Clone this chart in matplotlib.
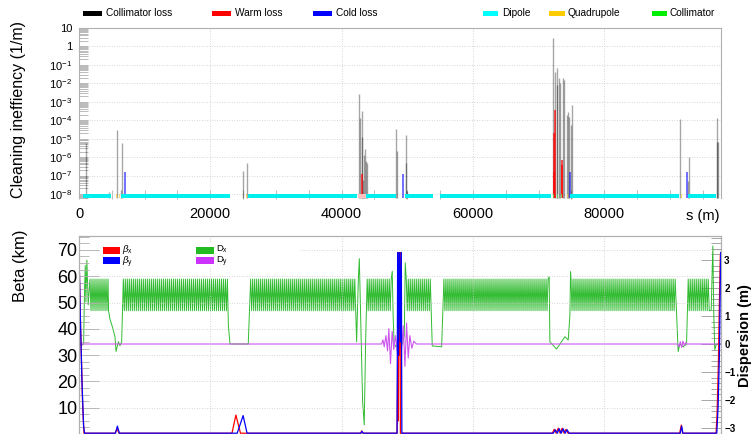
import numpy as np
import matplotlib
matplotlib.use("Agg")
import matplotlib.pyplot as plt
from matplotlib.patches import Rectangle
from matplotlib.ticker import FixedLocator, MultipleLocator, NullFormatter, FixedFormatter, LogLocator

plt.rcParams['font.family'] = ['Liberation Sans', 'DejaVu Sans']
plt.rcParams['mathtext.fontset'] = 'custom'
plt.rcParams['mathtext.rm'] = 'Liberation Sans'
plt.rcParams['mathtext.it'] = 'Liberation Sans:italic'
plt.rcParams['mathtext.bf'] = 'Liberation Sans:bold'

RING = 97750.0

# ---- loss map (s in m, inefficiency in 1/m)
coll_s = [1000, 4600, 5840, 6400, 6600, 25030, 25540,
          42650, 42800, 43050, 43050, 43250, 43400, 43600, 43750, 43900,
          48280, 48480, 49750, 49750, 50000,
          72240, 72500, 72750, 72850, 73100, 73260, 73760, 73910,
          74270, 74420, 74670, 74930, 75030,
          91530, 92780, 92900, 97120, 97220, 97320]
coll_loss = [6e-6, 1.3e-8, 3e-5, 1.7e-8, 5.6e-6, 1.8e-7, 4.7e-7,
             2.5e-3, 1.3e-4, 3e-4, 1.3e-5, 6e-8, 1.3e-6, 2.8e-6, 6e-7, 4.6e-7,
             3.2e-5, 2.2e-6, 1.5e-5, 4.7e-7, 1.5e-8,
             2.8, 4.3e-2, 6.4e-2, 8e-3, 1.9e-2, 1e-2, 1.9e-2, 1.5e-2,
             1.9e-4, 2.9e-4, 1.5e-4, 5.5e-5, 6.7e-4,
             1.1e-4, 4.8e-8, 1.07e-6, 1.3e-4, 6.3e-6, 6.3e-6]
warm_s = [43050, 72300, 72400, 72450, 73600, 73650]
warm_loss = [1.2e-7, 1.6e-7, 2e-5, 3.5e-4, 3.7e-7, 7e-7]
cold_s = [7050, 49400, 74850, 92550]
cold_loss = [1.5e-7, 1.25e-7, 1.6e-7, 1.5e-7]

# ---- element ribbon
dipole_from = [660, 6350, 25780, 43710, 49650, 54980, 74780, 92800]
dipole_to = [4980, 23000, 42540, 48380, 53960, 71990, 91530, 97120]
warm_elem_from = [42540]
warm_elem_to = [43710]
quad_s = [150, 450, 5300, 5700, 6150, 23300, 24800, 25500, 47700, 48600,
          49100, 54200, 54700, 72100, 72500, 73300, 74000, 74400,
          91800, 92300, 97300, 97600]
coll_elem_s = [5450, 5950, 48450, 48900, 72300, 72900, 73500, 74200, 92000]
cell_len = 305.0

# ---- optics (beta in km, dispersion in m)
bx_s = [0, 250, 560, 760, 5500, 5800, 6100, 23300, 23900, 24600,
        42900, 43050, 43250, 48450, 48550, 48650, 48720, 48800, 48900, 48960,
        72100, 72400, 72700, 73000, 73300, 73600, 73900, 74200, 74500,
        91500, 91750, 91950, 97050, 97200, 97400, 97550, 97700, RING]
bx_km = [68, 40, 10.5, 0.3, 0.3, 2.0, 0.3, 0.3, 7.2, 0.3,
         0.3, 1.2, 0.3, 0.3, 26, 5, 69, 30, 69, 0.3,
         0.3, 1.8, 0.3, 2.2, 0.3, 2.2, 0.3, 1.8, 0.3,
         0.3, 3.4, 0.3, 0.3, 8, 27, 50, 68, 69]
by_s = [0, 200, 450, 700, 850, 5550, 5850, 6150, 24100, 25000, 25600,
        42950, 43100, 43300, 48450, 48540, 48650, 48800, 48950, 49100, 49180,
        72250, 72550, 72850, 73150, 73450, 73750, 74050, 74350, 74650,
        91600, 91800, 92000, 97150, 97350, 97550, RING]
by_km = [69, 45, 20, 3, 0.3, 0.3, 3.0, 0.3, 0.3, 7.0, 0.3,
         0.3, 1.0, 0.3, 0.3, 69, 30, 69, 35, 69, 0.3,
         0.3, 1.6, 0.3, 2.0, 0.3, 2.0, 0.3, 1.6, 0.3,
         0.3, 3.0, 0.3, 0.3, 10, 30, 69]

dy_s = [0, 46100, 46300, 46500, 46750, 47000, 47200, 47450, 47700, 47950,
        48200, 48500, 48800, 49100, 49400, 49650, 49900, 50150, 50400,
        50700, 51000, 51400, 91200, 91400, 91600, 91800, 92000, 92200,
        92400, 92600, RING]
dy_m = [0, 0, 0.15, -0.1, 0.3, -0.25, 0.55, -0.7, 0.45, -0.2,
        0.3, -0.3, 0.2, -0.3, 0.65, -0.8, 0.75, -0.5, 0.3,
        -0.15, 0.1, 0, 0, -0.1, 0.08, -0.12, 0.1, -0.05,
        0.05, 0, 0]

arc_from = [1675, 6750, 26150, 43900, 49850, 55590, 74950, 92800]
arc_to = [4420, 22650, 42035, 47620, 53560, 71580, 90920, 96100]
dx_max, dx_min = 2.32, 1.19
dx_link_s = [0, 400, 700, 850, 950, 1050, 1200, 1400,
             4500, 4700, 5000, 5480, 5640, 5990, 6240, 6500,
             22750, 23000, 25780,
             42190, 42290, 42540, 42700, 42900, 43200, 43450, 43660, 43800,
             47720, 47850, 48000, 48300, 48800, 49300, 49550, 49700,
             53810, 55240,
             71620, 71730, 72750, 74020, 74520, 74780, 74880,
             91270, 91530, 92040, 92550,
             96300, 96550, 96700, 96850, 97100, RING]
dx_link_m = [0.0, -0.05, 0.0, 2.0, 2.8, 1.5, 3.0, 1.4,
             1.2, 0.9, 0.68, 0.26, -0.27, 0.08, -0.06, 0.08,
             0.68, 0.0, 0.0,
             0.8, 0.08, 2.23, 3.05, 1.03, -2.05, -2.89, 0.08, 1.39,
             2.6, 1.0, 0.0, -0.1, -0.05, 0.0, 0.3, 2.9,
             -0.07, -0.1,
             2.4, 0.08, -0.18, 0.26, 0.14, 1.03, 2.58,
             -0.27, 0.0, -0.1, 0.0,
             1.2, 3.5, 1.0, -0.2, 0.0, 0.0]

# Dx through the arcs: one max/min per half cell
dx_s, dx_m = list(dx_link_s), list(dx_link_m)
for a, b in zip(arc_from, arc_to):
    n = int((b - a) / (cell_len / 2))
    for k in range(n + 1):
        dx_s.append(a + k * cell_len / 2)
        dx_m.append(dx_max if k % 2 == 0 else dx_min)
order = np.argsort(dx_s)
dx_s = np.array(dx_s)[order]
dx_m = np.array(dx_m)[order]

W, H = 753, 434
fig = plt.figure(figsize=(W / 100, H / 100), dpi=100)

def fx(px):
    return px / W

def fy(py):
    return 1 - py / H

grid_kw = dict(color='#c8c8c8', linestyle=(0, (1, 2)), linewidth=0.6)
frame = '#b0b0b0'

# ================= loss map =================
y_bot = 5.7e-9
ax1 = fig.add_axes([fx(79), fy(198.5), fx(720.7) - fx(79), fy(28) - fy(198.5)])
ax1.set_yscale('log')
ax1.set_xlim(0, RING)
ax1.set_ylim(y_bot, 10)
ax1.set_axisbelow(True)

ax1.vlines(coll_s, y_bot, coll_loss, colors='black', alpha=0.35, lw=1.0, zorder=2)
ax1.vlines(warm_s, y_bot, warm_loss, colors='red', alpha=0.75, lw=1.3, zorder=3)
ax1.vlines(cold_s, y_bot, cold_loss, colors='blue', alpha=0.6, lw=1.3, zorder=3)

# element ribbon along the bottom
rib = (y_bot, 1e-8 - y_bot)
cells = []
for a, b in zip(dipole_from, dipole_to):
    n = int((b - a) / (cell_len / 2))
    for k in range(n):
        cells.append((a + k * cell_len / 2 + 8, cell_len / 2 - 16))
ax1.broken_barh(cells, rib, facecolors='#00f0f0', edgecolor='none', zorder=4)
ax1.broken_barh([(a, b - a) for a, b in zip(warm_elem_from, warm_elem_to)], rib,
                facecolors='#ffc0c0', edgecolor='none', zorder=4)
ax1.broken_barh([(s - 25, 50) for s in quad_s], rib, facecolors='#ffd040',
                edgecolor='none', alpha=0.7, zorder=5)
ax1.broken_barh([(s - 25, 50) for s in coll_elem_s], rib, facecolors='#60ff60',
                edgecolor='none', alpha=0.7, zorder=5)

ax1.xaxis.set_major_locator(MultipleLocator(20000))
ax1.xaxis.set_minor_locator(MultipleLocator(5000))
ax1.yaxis.set_major_locator(FixedLocator([10.0 ** e for e in range(-8, 2)]))
ax1.yaxis.set_major_formatter(FixedFormatter(
    ['$10^{%d}$' % e for e in range(-8, 0)] + ['1', '10']))
ax1.yaxis.set_minor_locator(LogLocator(base=10, subs=np.arange(2, 10), numticks=20))
ax1.yaxis.set_minor_formatter(NullFormatter())
ax1.tick_params(axis='both', which='both', direction='in', color=frame,
                length=6.5, width=0.6)
ax1.tick_params(axis='y', labelsize=8, pad=5)
ax1.tick_params(axis='x', labelsize=10.5, pad=6)
ax1.grid(True, which='major', **grid_kw)
for sp in ax1.spines.values():
    sp.set_color(frame)
    sp.set_linewidth(0.8)
ax1.spines['bottom'].set_visible(False)

fig.text(fx(720), fy(216), 's (m)', ha='right', va='center', fontsize=10.5)
fig.text(fx(18.5), fy(109), 'Cleaning ineffiency (1/m)', rotation=90,
         ha='center', va='center', fontsize=11.5)

# legend row above the loss map
top_items = [(83, 102, 106, 'Collimator loss', 'black'),
             (212, 231, 235, 'Warm loss', 'red'),
             (313, 332, 336, 'Cold loss', 'blue'),
             (483, 498, 502, 'Dipole', '#00ffff'),
             (549, 565, 568, 'Quadrupole', '#ffcc00'),
             (652, 667, 670, 'Collimator', '#00ee00')]
for x0, x1, xt, lab, col in top_items:
    fig.add_artist(Rectangle((fx(x0), fy(15.5)), fx(x1) - fx(x0), fy(11) - fy(15.5),
                             transform=fig.transFigure, facecolor=col, edgecolor='none'))
    fig.text(fx(xt), fy(12.5), lab, ha='left', va='center', fontsize=7.3)

# ================= optics =================
ax_b = fig.add_axes([fx(79), 0, fx(720.7) - fx(79), fy(235.7)])
ax_d = ax_b.twinx()
ax_b.set_zorder(ax_d.get_zorder() + 1)
ax_b.patch.set_visible(False)

ax_b.set_xlim(0, RING)
ax_b.set_ylim(0, 75.4)
ax_d.set_ylim(-3.214, 3.868)

ax_d.plot(dx_s, dx_m, color='#30bb30', lw=0.7)
ax_d.plot(dy_s, dy_m, color='#cc55ee', lw=0.8)
ax_b.plot(bx_s, bx_km, color='red', lw=0.9)
ax_b.plot(by_s, by_km, color='blue', lw=0.9)

ax_b.xaxis.set_major_locator(MultipleLocator(20000))
ax_b.xaxis.set_major_formatter(NullFormatter())
ax_b.yaxis.set_major_locator(FixedLocator([10, 20, 30, 40, 50, 60, 70]))
ax_b.yaxis.set_minor_locator(MultipleLocator(2.5))
ax_b.tick_params(axis='y', which='major', direction='in', color=frame, length=14.4,
                 width=0.6, labelsize=13, pad=1)
ax_b.tick_params(axis='y', which='minor', direction='in', color=frame, length=7.2, width=0.6)
ax_b.tick_params(axis='x', which='both', length=0)
ax_b.grid(True, which='major', **grid_kw)

ax_d.yaxis.set_major_locator(FixedLocator([-3, -2, -1, 0, 1, 2, 3]))
ax_d.yaxis.set_minor_locator(MultipleLocator(0.2))
ax_d.tick_params(axis='y', which='major', direction='in', color='#999999', length=14.4,
                 width=0.6, labelsize=7, pad=2.5)
ax_d.tick_params(axis='y', which='minor', direction='in', color='#999999', length=7.2, width=0.6)
for lab in ax_d.get_yticklabels():
    lab.set_fontweight('bold')

for a in (ax_b, ax_d):
    for sp in a.spines.values():
        sp.set_color(frame)
        sp.set_linewidth(0.8)

fig.text(fx(21), fy(266), 'Beta (km)', rotation=90, ha='center', va='center', fontsize=12)
fig.text(fx(745), fy(336), 'Dispersion (m)', rotation=90, ha='center', va='center',
         fontsize=10.5, fontweight='bold')

# optics legend
fig.add_artist(Rectangle((fx(100), fy(268)), fx(300) - fx(100), fy(243) - fy(268),
                         transform=fig.transFigure, facecolor='white', edgecolor='none',
                         zorder=5))
opt_items = [(103, 120, 247, 253.5, 249, r'$\beta_\mathrm{x}$', 'red'),
             (103, 120, 257, 264, 262, r'$\beta_\mathrm{y}$', 'blue'),
             (196, 214, 247, 253.5, 249, r'$\mathrm{D_x}$', '#22bb22'),
             (196, 214, 257, 264, 262, r'$\mathrm{D_y}$', '#cc33ff')]
for x0, x1, y0, y1, yt, lab, col in opt_items:
    fig.add_artist(Rectangle((fx(x0), fy(y1)), fx(x1) - fx(x0), fy(y0) - fy(y1),
                             transform=fig.transFigure, facecolor=col, edgecolor='none',
                             zorder=6))
    fig.text(fx(x1 + 2), fy(yt), lab, ha='left', va='center', fontsize=6.8, zorder=6)

fig.savefig('out.png', dpi=100)
